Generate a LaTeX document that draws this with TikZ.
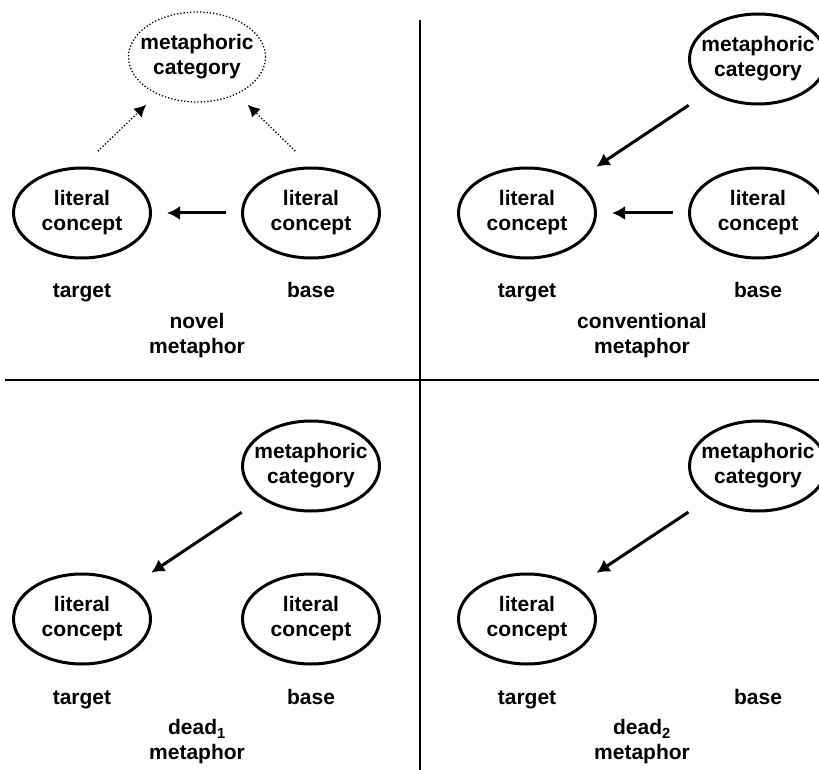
\documentclass[tikz,border=0pt]{standalone}
\usepackage{fontspec}
\setmainfont{Liberation Sans}
\usetikzlibrary{arrows.meta,shapes.geometric}

\tikzset{
	concept/.style={draw, ellipse, line width=3pt, inner xsep=-10pt, inner ysep=0pt,
		minimum width=137pt, minimum height=90pt, align=center},
	dimconcept/.style={concept, line width=1.3pt, dash pattern=on 1.3pt off 2pt},
	maparrow/.style={line width=3pt, -{Latex[length=13pt,width=14pt]}, shorten >=15pt, shorten <=15pt},
	pointarrow/.style={line width=3pt, -{Latex[length=13pt,width=14pt]}, shorten >=24pt, shorten <=24pt},
	dimarrow/.style={line width=1.3pt, dash pattern=on 1.3pt off 2pt, -{Latex[length=12pt,width=12pt]}},
	role/.style={anchor=base},
	kind/.style={align=center},
	divider/.style={line width=1.3pt}
}

\begin{document}
\begin{tikzpicture}[x=1pt, y=-1pt, font=\bfseries\fontsize{21}{25}\selectfont]
		%%%%% START %%%%%
		\useasboundingbox (0, 0) rectangle (819, 770);
		
		\draw[divider] (420, 20) -- (420, 770);
		\draw[divider] (5, 380) -- (819, 380);
		
		% novel metaphor
		\node[dimconcept] (metaA) at (197, 57) {metaphoric\\category};
		\node[concept] (targetA) at (82, 213) {literal\\concept};
		\node[concept] (baseA) at (311, 213) {literal\\concept};
		\draw[maparrow] (baseA) -- (targetA);
		\draw[dimarrow, shorten <=22pt, shorten >=15pt] (targetA.north) -- (metaA.223);
		\draw[dimarrow, shorten <=22pt, shorten >=15pt] (baseA.north) -- (metaA.317);
		\node[role] (targetAlabel) at (82, 297) {target};
		\node[role] (baseAlabel) at (311, 297) {base};
		\node[kind] (kindA) at (197, 336) {novel\\metaphor};
		
		% conventional metaphor
		\node[concept] (metaB) at (758, 59) {metaphoric\\category};
		\node[concept] (targetB) at (527, 213) {literal\\concept};
		\node[concept] (baseB) at (758, 213) {literal\\concept};
		\draw[maparrow] (baseB) -- (targetB);
		\draw[pointarrow] (metaB) -- (targetB);
		\node[role] (targetBlabel) at (527, 297) {target};
		\node[role] (baseBlabel) at (758, 297) {base};
		\node[kind] (kindB) at (642, 336) {conventional\\metaphor};
		
		% dead1 metaphor
		\node[concept] (metaC) at (311, 466) {metaphoric\\category};
		\node[concept] (targetC) at (82, 619) {literal\\concept};
		\node[concept] (baseC) at (311, 619) {literal\\concept};
		\draw[pointarrow] (metaC) -- (targetC);
		\node[role] (targetClabel) at (82, 704) {target};
		\node[role] (baseClabel) at (311, 704) {base};
		\node[kind] (kindC) at (197, 742) {dead\textsubscript{1}\\metaphor};
		
		% dead2 metaphor
		\node[concept] (metaD) at (758, 466) {metaphoric\\category};
		\node[concept] (targetD) at (527, 619) {literal\\concept};
		\draw[pointarrow] (metaD) -- (targetD);
		\node[role] (targetDlabel) at (527, 704) {target};
		\node[role] (baseDlabel) at (758, 704) {base};
		\node[kind] (kindD) at (642, 742) {dead\textsubscript{2}\\metaphor};
		
		%%%%% END %%%%%
\end{tikzpicture}
\end{document}
